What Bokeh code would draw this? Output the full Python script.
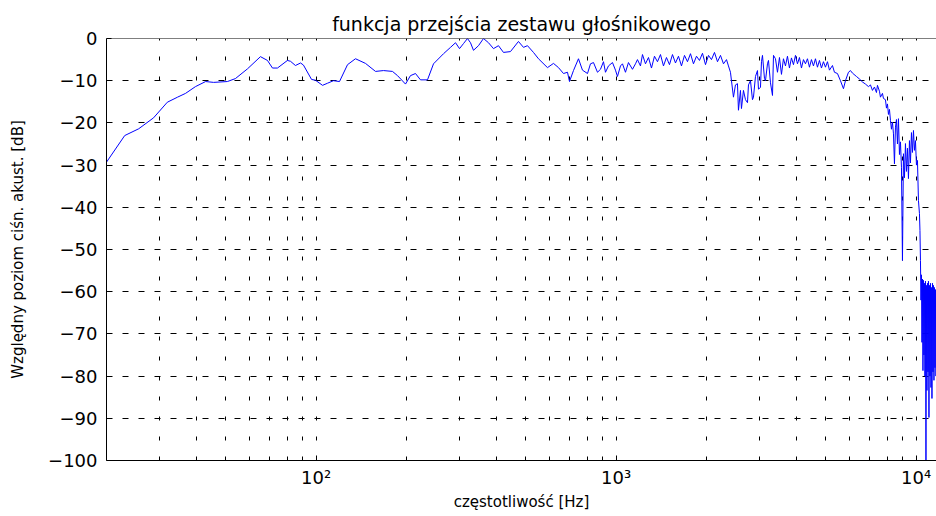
from bokeh.plotting import figure
from bokeh.models import Range1d, FixedTicker, Span
from bokeh.embed import file_html
from bokeh.resources import INLINE

# ---- data ----
freq_hz = [
    20.0, 23.0, 25.6, 28.7, 31.9, 34.5, 36.7, 39.6, 42.8, 45.5,
    50.6, 53.8, 59.0, 65.2, 68.8, 71.5, 74.3, 80.2, 82.1, 85.3,
    88.7, 90.7, 96.5, 99.5, 105.0, 109.1, 114.2, 119.6, 127.2, 135.2,
    146.0, 157.7, 167.7, 179.6, 186.7, 198.5, 206.2, 214.3, 222.7, 235.0,
    246.1, 265.8, 280.4, 291.4, 300.5, 309.8, 319.4, 326.9, 334.5, 347.6,
    361.2, 375.3, 390.0, 405.2, 421.1, 444.3, 472.4, 490.9, 506.2, 530.1,
    550.8, 590.2, 618.1, 642.3, 667.4, 688.2, 698.9, 720.6, 748.8, 772.1,
    802.4, 821.0, 840.2, 866.4, 886.5, 907.2, 921.2, 942.6, 972.1, 994.7,
    1010.1, 1033.6, 1049.6, 1074.0, 1099.0, 1133.3, 1159.7, 1177.6, 1205.1, 1223.7,
    1252.3, 1281.4, 1311.3, 1341.8, 1373.1, 1405.1, 1437.8, 1471.3, 1505.6, 1540.7,
    1576.6, 1613.3, 1650.9, 1689.4, 1728.7, 1769.0, 1810.2, 1852.4, 1895.5, 1939.7,
    1984.9, 2031.1, 2078.4, 2126.8, 2176.4, 2227.1, 2279.0, 2332.1, 2367.6, 2404.3,
    2460.3, 2498.4, 2537.1, 2556.6, 2596.2, 2616.2, 2656.7, 2697.9, 2739.7, 2760.8,
    2803.5, 2847.0, 2868.9, 2913.3, 2958.4, 2981.2, 3027.4, 3050.7, 3074.2, 3121.8,
    3145.8, 3194.5, 3219.1, 3268.9, 3319.6, 3345.1, 3396.5, 3449.0, 3502.4, 3556.5,
    3611.5, 3667.4, 3724.1, 3781.7, 3840.2, 3899.6, 3959.9, 4021.2, 4083.4, 4146.5,
    4210.7, 4275.8, 4341.9, 4409.1, 4477.3, 4546.5, 4616.8, 4688.2, 4760.7, 4834.4,
    4909.1, 4985.1, 5062.2, 5140.5, 5260.3, 5341.7, 5466.1, 5593.4, 5723.6, 5812.2,
    5947.5, 6039.6, 6133.1, 6324.5, 6471.8, 6622.5, 6776.7, 6934.5, 7041.8, 7150.8,
    7261.5, 7373.9, 7430.6, 7545.6, 7603.7, 7721.4, 7780.8, 7901.2, 7962.1, 8023.4,
    8085.3, 8147.5, 8210.4, 8273.6, 8337.3, 8401.5, 8466.2, 8531.4, 8597.1, 8663.4,
    8730.1, 8797.3, 8865.1, 8933.4, 9002.2, 9071.6, 9141.5, 9211.9, 9282.8, 9354.3,
    9426.4, 9499.0, 9572.2, 9645.9, 9720.2, 9795.1, 9870.5, 9947.1, 10023.7, 10100.9,
    10178.7, 10257.1, 10296.6, 10336.1, 10375.9, 10415.8, 10455.9, 10496.0, 10536.4, 10576.8,
    10617.5, 10658.3, 10699.3, 10740.4, 10781.7, 10823.1, 10864.7, 10906.5, 10948.4, 10990.5,
    11032.8, 11075.2, 11117.8, 11160.5, 11203.4, 11246.5, 11289.7, 11333.1, 11376.7, 11420.4,
    11464.3, 11508.4, 11552.6, 11597.0, 11641.6, 11686.4,
]
level_db = [
    -29.3, -23.0, -21.4, -18.8, -15.1, -13.9, -13.0, -11.4, -10.2, -10.4,
    -10.2, -9.5, -7.2, -4.3, -5.2, -7.0, -7.0, -5.2, -5.4, -6.4,
    -5.8, -6.3, -9.7, -9.9, -11.1, -10.6, -10.0, -10.2, -6.2, -4.8,
    -5.9, -7.8, -7.6, -7.8, -8.8, -10.8, -8.8, -8.3, -9.8, -9.8,
    -6.0, -3.6, -2.1, -1.0, -2.4, -1.2, 0.0, -1.0, -2.8, -1.7,
    0.0, -1.0, -2.4, -1.7, -3.3, -3.1, -0.7, -2.1, -1.7, -3.3,
    -4.8, -6.9, -5.9, -6.9, -8.3, -8.0, -10.2, -7.6, -4.8, -7.5,
    -8.3, -6.0, -5.7, -8.0, -7.3, -5.5, -8.0, -6.5, -5.7, -7.5,
    -9.0, -6.5, -6.0, -8.0, -5.7, -7.3, -6.0, -5.0, -6.5, -3.8,
    -6.0, -4.5, -7.0, -4.2, -5.5, -3.8, -6.5, -4.5, -6.2, -3.8,
    -5.8, -4.2, -6.5, -4.0, -5.5, -3.6, -6.0, -4.2, -5.2, -3.5,
    -6.2, -4.0, -5.0, -3.3, -5.5, -4.0, -6.0, -5.0, -6.5, -8.0,
    -13.9, -11.0, -10.7, -17.0, -12.3, -16.6, -12.3, -14.5, -15.2, -11.0,
    -10.0, -14.5, -13.9, -9.0, -7.6, -12.0, -11.6, -5.5, -4.0, -9.5,
    -10.0, -6.0, -5.2, -10.5, -13.5, -4.0, -4.8, -8.0, -4.5, -8.5,
    -4.8, -6.5, -4.2, -7.0, -4.6, -6.2, -4.0, -6.0, -4.5, -7.0,
    -5.0, -6.0, -4.8, -6.8, -5.0, -6.5, -4.8, -6.8, -5.2, -7.0,
    -5.5, -6.8, -5.5, -7.5, -6.4, -8.0, -8.3, -10.0, -11.9, -10.0,
    -8.0, -7.6, -8.2, -9.0, -9.6, -10.3, -10.8, -11.4, -11.0, -12.3,
    -11.5, -12.8, -11.1, -12.5, -13.9, -13.0, -14.2, -14.5, -16.5, -15.5,
    -18.0, -16.8, -19.4, -21.5, -19.8, -22.6, -29.7, -21.0, -19.2, -25.0,
    -19.0, -27.5, -24.5, -30.5, -52.6, -27.3, -33.0, -24.9, -31.5, -26.0,
    -33.2, -24.2, -29.5, -22.3, -27.0, -21.8, -26.5, -24.2, -30.0, -28.9,
    -38.4, -41.5, -45.5, -52.6, -62.0, -56.0, -72.0, -57.0, -78.7, -57.3,
    -75.0, -58.0, -80.0, -57.5, -100.0, -58.5, -83.4, -58.0, -79.0, -57.5,
    -89.8, -58.5, -80.0, -58.0, -82.7, -59.0, -85.3, -58.0, -79.0, -58.5,
    -81.0, -59.0, -78.0, -59.5, -80.0, -59.7,
]

y_ticks = [0, -10, -20, -30, -40, -50, -60, -70, -80, -90, -100]
x_major_ticks = [100, 1000, 10000]
x_minor_ticks = [30, 40, 50, 60, 70, 80, 90,
                 200, 300, 400, 500, 600, 700, 800, 900,
                 2000, 3000, 4000, 5000, 6000, 7000, 8000, 9000]
x_tick_labels = {100: "10²", 1000: "10³", 10000: "10⁴"}
title_text = "funkcja przejścia zestawu głośnikowego"
x_label = "częstotliwość [Hz]"
y_label = "Względny poziom ciśn. akust. [dB]"
x_limits = (20, 11690)
y_limits = (-100, 0)

FONT = "DejaVu Sans"

p = figure(width=936, height=516, x_axis_type="log",
           x_range=Range1d(*x_limits), y_range=Range1d(*y_limits),
           output_backend="svg", toolbar_location=None,
           min_border_left=106, min_border_right=0,
           min_border_top=38, min_border_bottom=56,
           title=title_text)

p.background_fill_color = "white"
p.border_fill_color = "white"
p.outline_line_color = None

p.title.text_font = FONT
p.title.text_font_size = "19px"
p.title.text_font_style = "normal"
p.title.text_color = "black"
p.title.align = "center"
p.title.standoff = 7

p.xaxis.ticker = FixedTicker(ticks=x_major_ticks, minor_ticks=x_minor_ticks)
p.xaxis.major_label_overrides = x_tick_labels
p.yaxis.ticker = FixedTicker(ticks=y_ticks)

for ax in (p.xaxis[0], p.yaxis[0]):
    ax.axis_line_color = "black"
    ax.axis_line_width = 1
    ax.major_tick_line_color = "black"
    ax.major_tick_in = 5
    ax.major_tick_out = 0
    ax.major_label_text_font = FONT
    ax.major_label_text_font_size = "18px"
    ax.major_label_text_color = "black"
    ax.axis_label_text_font = FONT
    ax.axis_label_text_font_style = "normal"
    ax.axis_label_text_font_size = "15px"
    ax.axis_label_text_color = "black"

p.xaxis.axis_label = x_label
p.yaxis.axis_label = y_label
p.xaxis.minor_tick_line_color = "black"
p.xaxis.minor_tick_in = 3
p.xaxis.minor_tick_out = 0
p.yaxis.minor_tick_line_color = None
p.yaxis.major_label_standoff = 9
p.yaxis.axis_label_standoff = 18
p.xaxis.major_label_standoff = 6
p.xaxis.axis_label_standoff = 2

p.xgrid.grid_line_color = "black"
p.xgrid.grid_line_dash = "4 16"
p.xgrid.minor_grid_line_color = "black"
p.xgrid.minor_grid_line_dash = "4 16"
p.ygrid.grid_line_color = "black"
p.ygrid.grid_line_dash = "6 10"

p.add_layout(Span(location=y_limits[1], dimension="width",
                  line_color="black", line_width=1))

p.line(freq_hz, level_db, line_color="#0000ff", line_width=1)

open("out.html", "w").write(file_html(p, INLINE))
